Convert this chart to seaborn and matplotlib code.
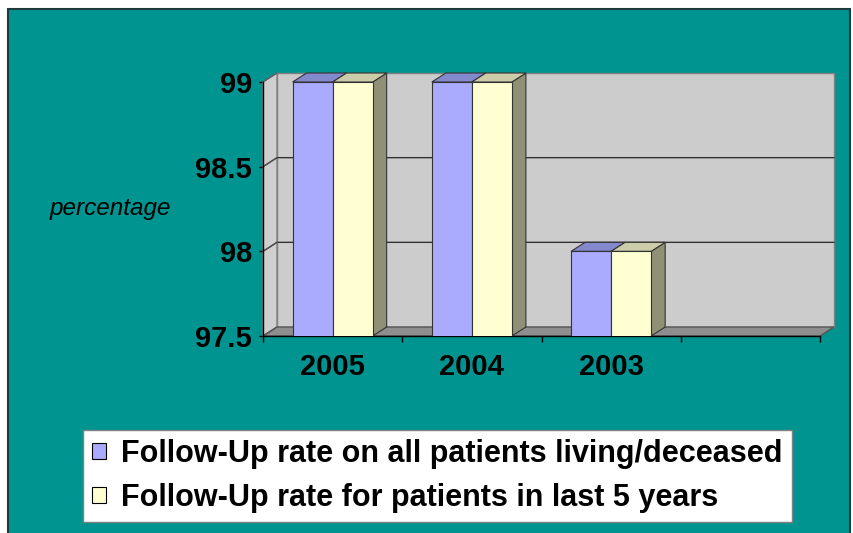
import numpy as np
import pandas as pd
import matplotlib
matplotlib.use("Agg")
import matplotlib.pyplot as plt
from matplotlib.patches import Polygon, Rectangle, Patch
import seaborn as sns

# ── data ──────────────────────────────────────────────────────────────────────
years = ["2005", "2004", "2003"]
slots = ["2005", "2004", "2003", ""]          # 4th slot is empty in the original
series = ["Follow-Up rate on all patients living/deceased",
          "Follow-Up rate for patients in last 5 years"]
all_patients = [99.0, 99.0, 98.0]
last_5_years = [99.0, 99.0, 98.0]
yticks = [97.5, 98, 98.5, 99]

TEAL = "#009490"
FRONT = ["#AAAAFF", "#FFFFD2"]
TOP = ["#8488CC", "#CCCCA8"]
SIDE = ["#6C6CA8", "#909077"]
FONT = ["Liberation Sans", "DejaVu Sans"]

df = pd.DataFrame({
    "year": years * 2,
    "rate": all_patients + last_5_years,
    "series": [series[0]] * 3 + [series[1]] * 3,
})

sns.set_style("white")
plt.rcParams["font.family"] = FONT
plt.rcParams["text.color"] = "black"
plt.rcParams["xtick.color"] = "black"
plt.rcParams["ytick.color"] = "black"

W, H = 854, 533
fig = plt.figure(figsize=(W / 100, H / 100), dpi=100)
fig.patch.set_facecolor("white")
fig.patches.append(Rectangle((8 / W, -0.02), 842 / W, 1.02 - 9 / H,
                             transform=fig.transFigure, facecolor=TEAL,
                             edgecolor="#1E3C3C", linewidth=1.5, zorder=-5))

# front plane of the 3-D box
ax = fig.add_axes([263 / W, 1 - 336 / H, 557 / W, 254 / H])
ax.set_facecolor("none")

sns.barplot(data=df, x="year", y="rate", hue="series", order=slots,
            hue_order=series, palette=FRONT, saturation=1, width=0.575,
            edgecolor="#333333", linewidth=0.8, ax=ax, legend=False, zorder=3)

ymin, ymax = yticks[0], yticks[-1]
ax.set_ylim(ymin, ymax)
ax.set_xlim(-0.5, len(slots) - 0.5)

# depth of the box, in data units (14 px right, 9 px up)
dx = 14 / (557 / len(slots))
dy = 9 / (254 / (ymax - ymin))
x0, x1 = -0.5, len(slots) - 0.5

# walls and floor
ax.add_patch(Polygon([(x0 + dx, ymin + dy), (x1 + dx, ymin + dy),
                      (x1 + dx, ymax + dy), (x0 + dx, ymax + dy)],
                     closed=True, facecolor="#CCCCCC", edgecolor="#808080",
                     linewidth=1, clip_on=False, zorder=0.5))
ax.add_patch(Polygon([(x0, ymin), (x0 + dx, ymin + dy), (x0 + dx, ymax + dy), (x0, ymax)],
                     closed=True, facecolor="#CFCFCF", edgecolor="#808080",
                     linewidth=1, clip_on=False, zorder=0.6))
ax.add_patch(Polygon([(x0, ymin), (x1, ymin), (x1 + dx, ymin + dy), (x0 + dx, ymin + dy)],
                     closed=True, facecolor="#8E8E8E", edgecolor="#555555",
                     linewidth=1, clip_on=False, zorder=0.6))
for t in yticks[1:-1]:
    ax.plot([x0, x0 + dx, x1 + dx], [t, t + dy, t + dy], color="#333333",
            linewidth=1, clip_on=False, zorder=0.7)
for t in yticks:
    ax.plot([x0, x0 + dx], [t, t + dy], color="#555555", linewidth=0.8,
            clip_on=False, zorder=0.7)

# 3-D sides and tops of the bars
for i, cont in enumerate(ax.containers):
    for p in cont.patches:
        bx, bw, bh = p.get_x(), p.get_width(), p.get_height()
        if np.isnan(bh):
            continue
        ax.add_patch(Polygon([(bx + bw, ymin), (bx + bw + dx, ymin + dy),
                              (bx + bw + dx, bh + dy), (bx + bw, bh)],
                             closed=True, facecolor=SIDE[i], edgecolor="#333333",
                             linewidth=0.8, clip_on=False, zorder=1))
        ax.add_patch(Polygon([(bx, bh), (bx + dx, bh + dy),
                              (bx + bw + dx, bh + dy), (bx + bw, bh)],
                             closed=True, facecolor=TOP[i], edgecolor="#333333",
                             linewidth=0.8, clip_on=False, zorder=1))

# axes cosmetics
for s in ["top", "right"]:
    ax.spines[s].set_visible(False)
for s in ["left", "bottom"]:
    ax.spines[s].set_color("black")
    ax.spines[s].set_linewidth(1)
ax.set_yticks(yticks)
ax.set_yticklabels([f"{t:g}" for t in yticks], fontsize=21, fontweight="bold")
ax.tick_params(axis="y", length=3, width=1, color="black", pad=5, left=True)
ax.set_xticks(range(len(slots)))
ax.set_xticklabels(slots, fontsize=21, fontweight="bold")
ax.set_xticks(np.arange(len(slots) + 1) - 0.5, minor=True)
ax.tick_params(axis="x", which="major", length=0, pad=12)
ax.tick_params(axis="x", which="minor", length=4, width=1, color="black", bottom=True)
ax.set_xlabel("")
ax.set_ylabel("")

fig.text(110 / W, 1 - 208 / H, "percentage", fontsize=17.5, style="italic",
         ha="center", va="center")

handles = [Patch(facecolor=FRONT[0], edgecolor="black", linewidth=0.8),
           Patch(facecolor=FRONT[1], edgecolor="black", linewidth=0.8)]
leg = fig.legend(handles, series, loc="upper left",
                 bbox_to_anchor=(83 / W, 1 - 430 / H), frameon=True,
                 fancybox=False, framealpha=1, edgecolor="#808080",
                 prop={"size": 22, "weight": "bold"}, handlelength=0.45,
                 handleheight=0.45, handletextpad=0.5, labelspacing=0.45,
                 borderpad=0.3, borderaxespad=0)
leg.get_frame().set_linewidth(1)

fig.savefig("out.png", dpi=100)
